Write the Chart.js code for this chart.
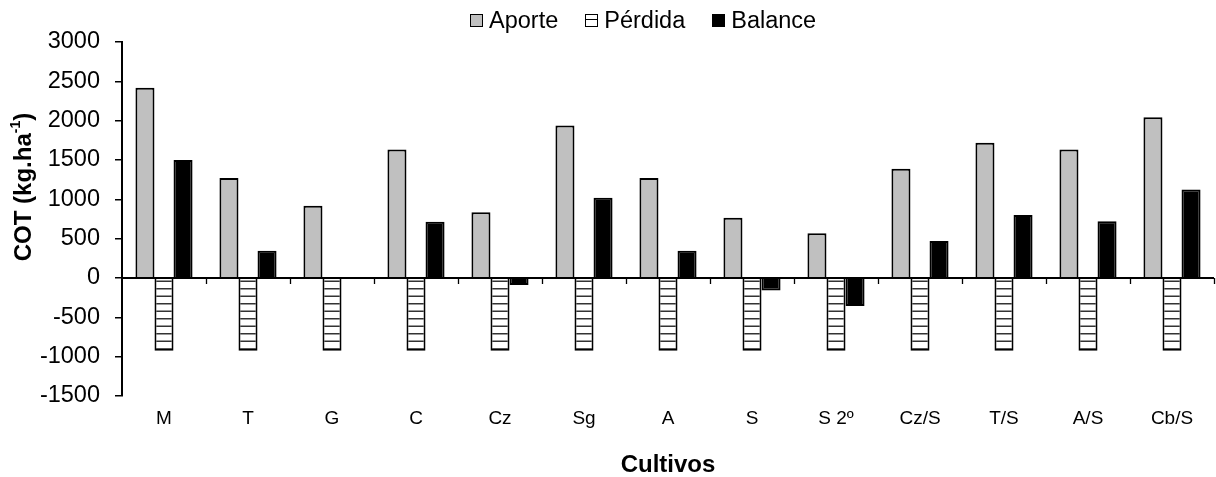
<!DOCTYPE html>
<html>
<head>
<meta charset="utf-8">
<script src="https://cdn.jsdelivr.net/npm/chart.js@4.4.1/dist/chart.umd.min.js"></script>
<style>
  body { margin: 0; background: #fff; }
  #wrap { position: relative; width: 1216px; height: 477px; }
  #legend { position: absolute; left: 470px; top: 7px; display: flex; align-items: center;
            font-family: "Liberation Sans", Arial, sans-serif; font-size: 23.5px; color: #000; line-height: 26px; }
  #legend .item { display: flex; align-items: center; margin-right: 27px; }
  #legend .box { width: 13px; height: 13px; box-sizing: border-box; border: 1.5px solid #000; margin-right: 6px; }
</style>
</head>
<body>
<div id="wrap">
  <canvas id="chart" width="1216" height="477"></canvas>
  <div id="legend"></div>
</div>
<script>
var FONT = "'Liberation Sans', Arial, sans-serif";

// data
var cultivos = ["M", "T", "G", "C", "Cz", "Sg", "A", "S", "S 2º", "Cz/S", "T/S", "A/S", "Cb/S"];
var aporte   = [2420, 1270, 920, 1635, 835, 1940, 1270, 765, 570, 1390, 1720, 1635, 2045];
var perdida  = [-925, -925, -925, -925, -925, -925, -925, -925, -925, -925, -925, -925, -925];
var balance  = [1500, 345, -5, 715, -90, 1020, 345, -160, -355, 470, 800, 720, 1125];
var yTicks   = [-1500, -1000, -500, 0, 500, 1000, 1500, 2000, 2500, 3000];

// horizontal line hatch for Pérdida
function makeHatch(){
  var c = document.createElement("canvas");
  c.width = 4; c.height = 15;
  var g = c.getContext("2d");
  g.fillStyle = "#fff";
  g.fillRect(0, 0, 4, 15);
  g.fillStyle = "#333";
  g.fillRect(0, 3, 4, 1.5);
  g.fillRect(0, 10.5, 4, 1.5);
  return g.createPattern(c, "repeat");
}
var hatch = makeHatch();

// zero line with small category ticks, like the excel axis
var zeroAxis = {
  id: "zeroAxis",
  afterDatasetsDraw: function(chart){
    var ctx = chart.ctx, a = chart.chartArea;
    var y0 = chart.scales.y.getPixelForValue(0);
    var n = cultivos.length, w = (a.right - a.left) / n;
    ctx.save();
    ctx.strokeStyle = "#000";
    ctx.lineWidth = 2;
    ctx.beginPath();
    ctx.moveTo(a.left, y0); ctx.lineTo(a.right, y0);
    ctx.stroke();
    ctx.lineWidth = 1.3;
    ctx.beginPath();
    for (var i = 1; i <= n; i++){
      var x = Math.round(a.left + i * w) + 0.5;
      ctx.moveTo(x, y0); ctx.lineTo(x, y0 + 6);
    }
    ctx.stroke();
    ctx.restore();
  }
};

// y title with superscript -1
var yTitle = {
  id: "yTitle",
  afterDraw: function(chart){
    var ctx = chart.ctx;
    var parts = [["COT (kg.ha", "bold 24px " + FONT, 0], ["-1", "bold 14px " + FONT, -8], [")", "bold 24px " + FONT, 0]];
    var total = 0;
    parts.forEach(function(p){ ctx.font = p[1]; total += ctx.measureText(p[0]).width; });
    ctx.save();
    ctx.translate(24, 187);
    ctx.rotate(-Math.PI / 2);
    ctx.fillStyle = "#000";
    ctx.textBaseline = "middle";
    var x = -total / 2;
    parts.forEach(function(p){
      ctx.font = p[1];
      ctx.fillText(p[0], x, p[2]);
      x += ctx.measureText(p[0]).width;
    });
    ctx.restore();
  }
};

var chart = new Chart(document.getElementById("chart"), {
  type: "bar",
  data: {
    labels: cultivos,
    datasets: [
      { label: "Aporte",  data: aporte,  backgroundColor: "#c0c0c0", borderColor: "#000", borderWidth: 2 },
      { label: "Pérdida", data: perdida, backgroundColor: hatch,     borderColor: "#000", borderWidth: 2 },
      { label: "Balance", data: balance, backgroundColor: "#000",    borderColor: "#000", borderWidth: 2 }
    ]
  },
  options: {
    responsive: false,
    animation: false,
    layout: { padding: { top: 42, right: 2, bottom: 0, left: 0 } },
    datasets: { bar: { categoryPercentage: 0.68, barPercentage: 1 } },
    plugins: { legend: { display: false }, tooltip: { enabled: false } },
    scales: {
      x: {
        grid: { display: false, drawTicks: false },
        border: { display: false },
        ticks: { color: "#000", font: { family: FONT, size: 19 }, padding: 11, maxRotation: 0 },
        title: { display: true, text: "Cultivos", color: "#000", font: { family: FONT, size: 24, weight: "bold", lineHeight: 1 }, padding: 0 },
        afterFit: function(s){ s.height = 81; }
      },
      y: {
        min: -1500, max: 3000,
        afterBuildTicks: function(s){ s.ticks = yTicks.map(function(v){ return { value: v }; }); },
        grid: { drawOnChartArea: false, drawTicks: true, tickLength: 7, color: "#000", lineWidth: 1.5 },
        border: { display: true, color: "#000", width: 2 },
        ticks: { color: "#000", font: { family: FONT, size: 23.5 }, padding: 15,
                 callback: function(v){ return String(v); } },
        afterFit: function(s){ s.width = 122; }
      }
    }
  },
  plugins: [zeroAxis, yTitle]
});

// html legend built from the datasets
var lg = document.getElementById("legend");
chart.data.datasets.forEach(function(ds, i){
  var item = document.createElement("div");
  item.className = "item";
  if (i == chart.data.datasets.length - 1) item.style.marginRight = "0";
  var box = document.createElement("span");
  box.className = "box";
  if (ds.label == "Pérdida") box.style.background = "linear-gradient(#fff 0 4px, #000 4px 5.5px, #fff 5.5px)";
  else box.style.background = ds.backgroundColor;
  var txt = document.createElement("span");
  txt.textContent = ds.label;
  item.appendChild(box); item.appendChild(txt);
  lg.appendChild(item);
});
</script>
</body>
</html>
